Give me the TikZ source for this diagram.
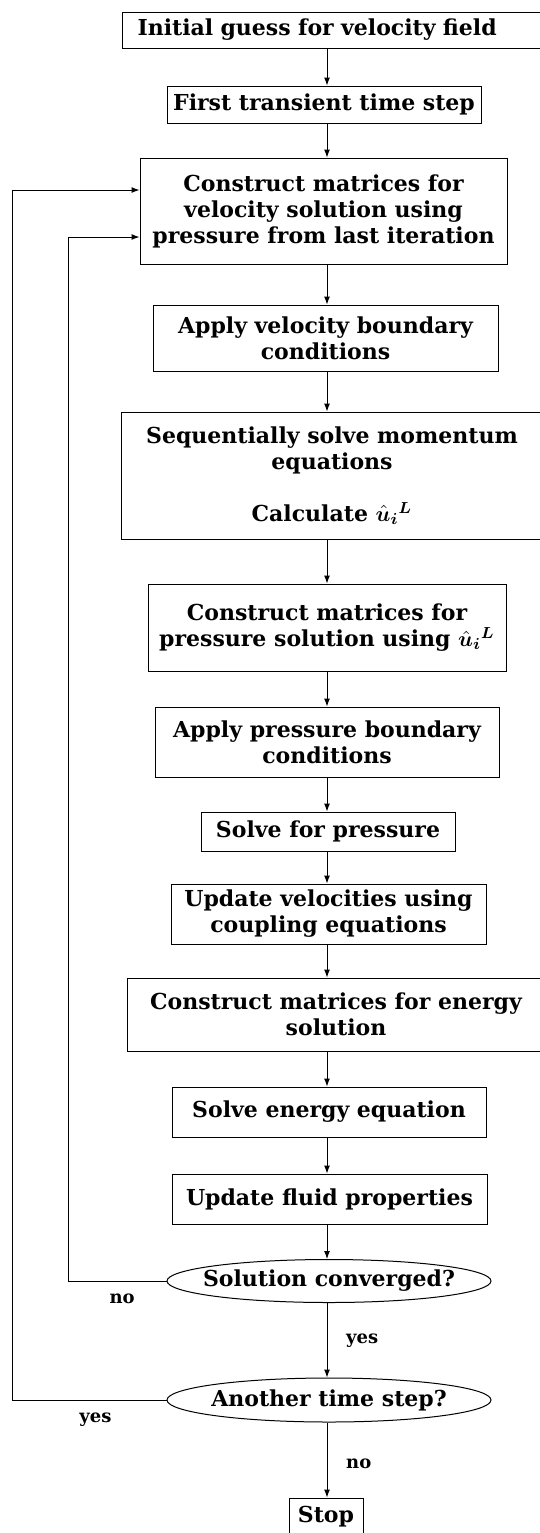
\documentclass[tikz,border=0pt]{standalone}
\usepackage{fontspec}
\usepackage{bm}
\setmainfont{DejaVu Serif}
\usetikzlibrary{shapes.geometric,arrows.meta}

\begin{document}
\begin{tikzpicture}[x=0.5pt, y=-0.5pt,
    stepbox/.style ={rectangle, draw, line width=0.5pt, inner sep=0pt, align=center,
                     font=\fontsize{11}{13}\selectfont\bfseries},
    query/.style ={ellipse, draw, line width=0.5pt, inner xsep=-6pt, inner ysep=0pt,
                   font=\fontsize{11}{13}\selectfont\bfseries},
    answer/.style ={font=\fontsize{9}{11}\selectfont\bfseries},
    flow/.style ={line width=0.5pt, -{Latex[length=4pt,width=3pt]}}]
   \useasboundingbox (0,0) rectangle (540,1533);
   \coordinate (axis)  at (327,0);
   \coordinate (inner) at (68,0);
   \coordinate (outer) at (12,0);
   % boxes of the loop
   \node[stepbox, anchor=west, inner xsep=7.5pt, text width=198pt, align=left,
         minimum height=18pt] (init) at (122,30) {Initial guess for velocity field};
   \node[stepbox, minimum width=157pt, minimum height=18.5pt] (first) at (324,104.5)
        {First transient time step};
   \node[stepbox, minimum width=183.5pt, minimum height=53pt] (velmat) at (323.5,211)
        {Construct matrices for\\velocity solution using\\pressure from last iteration};
   \node[stepbox, minimum width=172.5pt, minimum height=33pt] (velbc) at (325.5,338)
        {Apply velocity boundary\\conditions};
   \node[stepbox, minimum width=211pt, minimum height=63.5pt] (momentum) at (332,475.5)
        {Sequentially solve momentum\\equations\\\vphantom{X}\\Calculate $\bm{\hat{u}_{i}{}^{L}}$};
   \node[stepbox, minimum width=179pt, minimum height=43.5pt] (presmat) at (327,627.5)
        {Construct matrices for\\pressure solution using $\bm{\hat{u}_{i}{}^{L}}$};
   \node[stepbox, minimum width=172pt, minimum height=35pt] (presbc) at (327,742)
        {Apply pressure boundary\\conditions};
   \node[stepbox, minimum width=127pt, minimum height=19.5pt] (solvep) at (328,831.5)
        {Solve for pressure};
   \node[stepbox, minimum width=157.5pt, minimum height=30pt] (update) at (328.5,914)
        {Update velocities using\\coupling equations};
   \node[stepbox, minimum width=209pt, minimum height=36.5pt] (energymat) at (336,1014.5)
        {Construct matrices for energy\\solution};
   \node[stepbox, minimum width=157pt, minimum height=25pt] (solvee) at (329,1112)
        {Solve energy equation};
   \node[stepbox, minimum width=157.5pt, minimum height=25pt] (fluid) at (329.5,1199)
        {Update fluid properties};
   \node[query, minimum width=162pt, minimum height=21.5pt] (conv) at (329,1281)
        {Solution converged?};
   \node[query, minimum width=162pt, minimum height=22pt] (another) at (329,1400)
        {Another time step?};
   \node[stepbox, minimum width=37pt, minimum height=19pt] (stop) at (326,1517) {Stop};
   % straight down
   \foreach \a/\b in {init/first, first/velmat, velmat/velbc, velbc/momentum,
                      momentum/presmat, presmat/presbc, presbc/solvep, solvep/update,
                      update/energymat, energymat/solvee, solvee/fluid, fluid/conv}
      \draw[flow] (\a.south -| axis) -- (\b.north -| axis);
   \draw[flow] (conv.south -| axis) -- node[answer, right=6pt] (convyes) {yes}
        (another.north -| axis);
   \draw[flow] (another.south -| axis) -- node[answer, right=6pt, pos=0.55] (anotherno) {no}
        (stop.north -| axis);
   % back to the top
   \draw[flow] (conv.west) -- node[answer, below=3pt, pos=0.45] (convno) {no}
        (conv.west -| inner) |- ([yshift=-13pt]velmat.west);
   \draw[flow] (another.west) -- node[answer, below=3pt, pos=0.46] (anotheryes) {yes}
        (another.west -| outer) |- ([yshift=10.5pt]velmat.west);
 \end{tikzpicture}
\end{document}
